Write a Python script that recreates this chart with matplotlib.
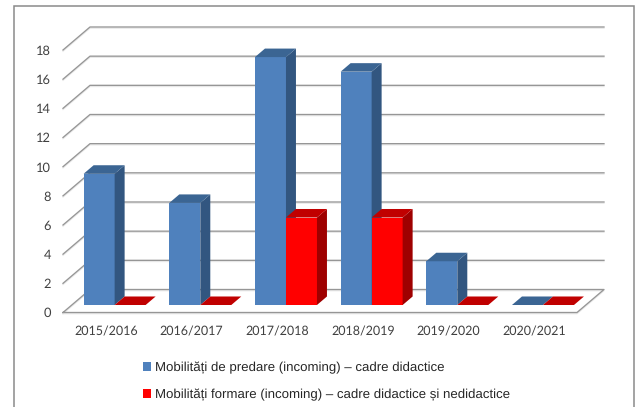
import matplotlib
matplotlib.use("Agg")
import matplotlib.pyplot as plt
from matplotlib.patches import Polygon, Patch, Rectangle

plt.rcParams["text.hinting"] = "none"

years = ["2015/2016", "2016/2017", "2017/2018", "2018/2019", "2019/2020", "2020/2021"]
teaching = [9, 7, 17, 16, 3, 0]
training = [0, 0, 6, 6, 0, 0]
y_ticks = [0, 2, 4, 6, 8, 10, 12, 14, 16, 18]
label_teaching = "Mobilități de predare (incoming) – cadre didactice"
label_training = "Mobilități formare (incoming) – cadre didactice și nedidactice"

W, H = 635, 407
L, R, B, T = 63, 577, 312.5, 50

fig = plt.figure(figsize=(W / 100, H / 100), dpi=100, facecolor="white")
ax = fig.add_axes([L / W, (H - B) / H, (R - L) / W, (B - T) / H])
ax.set_xlim(0, 6)
ax.set_ylim(0, 18)
ax.patch.set_visible(False)
for s in ax.spines.values():
    s.set_visible(False)

px_x = 6 / (R - L)          # data units per pixel, horizontally
px_y = 18 / (B - T)         # data units per pixel, vertically
DX, DY = 27 * px_x, 23 * px_y   # full depth of the chart box


def sh(x, v, d):
    """Project a point at depth d (0 front .. 1 back) of the 3-D box."""
    return (x + d * DX, v + d * DY)


GRID = "#969696"
GRID_SHADOW = "#e8e8e8"
for v in y_ticks:
    pts = [sh(0, v, 0), sh(0, v, 1), sh(6, v, 1)]
    if v == 0:
        pts += [sh(6, v, 0), sh(0, v, 0)]
    xs, ys = zip(*pts)
    ax.plot(xs, [y - 1.2 * px_y for y in ys], color=GRID_SHADOW, lw=0.9, clip_on=False, zorder=1)
    ax.plot(xs, ys, color=GRID, lw=0.95, clip_on=False, zorder=2)

BAR_W = 31 * px_x
D0, D1 = 0.326, 0.696
colors_blue = ("#4F81BD", "#3B6593", "#325680")
colors_red = ("#FF0000", "#C00000", "#9E0000")


def bar3d(x0, v, cols, z):
    x1 = x0 + BAR_W
    front, top, side = cols
    if v > 0:
        ax.add_patch(Polygon([sh(x0, 0, D0), sh(x1, 0, D0), sh(x1, v, D0), sh(x0, v, D0)],
                             fc=front, ec="none", zorder=z, clip_on=False))
        ax.add_patch(Polygon([sh(x1, 0, D0), sh(x1, 0, D1), sh(x1, v, D1), sh(x1, v, D0)],
                             fc=side, ec="none", zorder=z, clip_on=False))
    ax.add_patch(Polygon([sh(x0, v, D0), sh(x1, v, D0), sh(x1, v, D1), sh(x0, v, D1)],
                         fc=top, ec="none", zorder=z, clip_on=False))


for i, (a, b) in enumerate(zip(teaching, training)):
    c = i + 0.5
    bar3d(c - BAR_W, a, colors_blue, 3 + i * 2)
    bar3d(c, b, colors_red, 4 + i * 2)

ax.set_xticks([i + 0.5 for i in range(len(years))])
ax.set_xticklabels(years, fontfamily="Lato", fontsize=9.0, color="#404040")
ax.set_yticks(y_ticks)
ax.set_yticklabels([str(v) for v in y_ticks], fontfamily="Lato", fontsize=9.3, color="#404040")
ax.tick_params(axis="x", length=0, pad=9.5)
ax.tick_params(axis="y", length=0, pad=8.5)

fig.add_artist(Rectangle((13.5 / W, -0.05), (634 - 13.5) / W, (H - 5.5) / H + 0.05,
                         transform=fig.transFigure, fc="none", ec="#8a8a8a", lw=1.1))

handles = [Patch(fc=colors_blue[0], ec="none"), Patch(fc=colors_red[0], ec="none")]
fig.legend(handles, [label_teaching, label_training], loc="upper left",
           bbox_to_anchor=(143 / W, 1 - 361.5 / H), bbox_transform=fig.transFigure,
           frameon=False, borderpad=0, borderaxespad=0, handlelength=0.62, handleheight=0.62,
           handletextpad=0.3, labelspacing=1.1,
           prop={"family": "Liberation Sans", "size": 9.55}, labelcolor="#262626")

fig.savefig("out.png", dpi=100)
